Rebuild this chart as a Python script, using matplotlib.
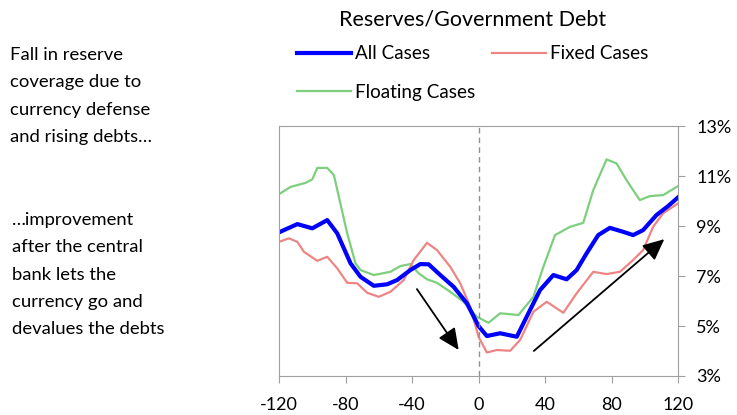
import matplotlib
matplotlib.use("Agg")
import matplotlib.pyplot as plt
from matplotlib.ticker import FuncFormatter

plt.rcParams['font.family'] = ['Lato', 'DejaVu Sans']
plt.rcParams['axes.unicode_minus'] = False

# months around the float (0 = currency let go), reserves / govt debt in %
all_x = [-120, -109, -100, -91, -85, -77, -71, -63, -55, -49, -41, -35, -30, -23, -15, -7, 0, 5,
         13, 23, 30, 37, 45, 53, 59, 65, 72, 79, 87, 93, 99, 107, 114, 120]
all_y = [8.75, 9.08, 8.91, 9.24, 8.71, 7.51, 6.97, 6.61, 6.67, 6.84, 7.24, 7.48, 7.47, 7.04, 6.57,
         5.91, 5.0, 4.6, 4.71, 4.57, 5.51, 6.44, 7.04, 6.87, 7.24, 7.91, 8.64, 8.93, 8.77, 8.64,
         8.84, 9.44, 9.8, 10.15]

fixed_x = [-120, -114, -109, -105, -97, -91, -85, -79, -73, -67, -60, -53, -45, -39, -31, -25, -17,
           -11, -5, 0, 5, 11, 19, 25, 33, 41, 51, 59, 69, 77, 85, 93, 99, 105, 111, 120]
fixed_y = [8.37, 8.51, 8.37, 7.97, 7.61, 7.77, 7.31, 6.73, 6.71, 6.33, 6.17, 6.37, 6.84, 7.64, 8.33,
           8.04, 7.37, 6.71, 5.77, 4.57, 3.94, 4.04, 4.01, 4.44, 5.57, 5.97, 5.53, 6.31, 7.17, 7.08,
           7.17, 7.64, 8.04, 8.97, 9.51, 9.91]

float_x = [-120, -113, -104, -100, -97, -91, -87, -84, -79, -74, -71, -63, -53, -47, -41, -36, -31,
           -25, -17, -9, -1, 6, 13, 24, 33, 39, 46, 55, 63, 69, 77, 83, 89, 97, 103, 111, 120]
float_y = [10.28, 10.57, 10.73, 10.87, 11.33, 11.33, 11.04, 10.17, 8.71, 7.51, 7.24, 7.04, 7.17,
           7.4, 7.48, 7.11, 6.87, 6.73, 6.37, 5.97, 5.37, 5.13, 5.51, 5.44, 6.17, 7.37, 8.64, 8.97,
           9.13, 10.44, 11.67, 11.51, 10.84, 10.04, 10.2, 10.24, 10.6]

x_ticks = [-120, -80, -40, 0, 40, 80, 120]
y_ticks = [3, 5, 7, 9, 11, 13]

# arrows: (start, end) in data units
arrow_down = ((-38, 6.57), (-11, 3.95))
arrow_up = ((32, 3.93), (113, 8.55))

fig = plt.figure(figsize=(7.37, 4.15), dpi=100)
ax = fig.add_axes([0.3786, 0.094, 0.5414, 0.602])

ax.plot(float_x, float_y, color='#7dcf7d', lw=1.6, label='Floating Cases')
ax.plot(fixed_x, fixed_y, color='#ee8585', lw=1.6, label='Fixed Cases')
ax.plot(all_x, all_y, color='#0000ff', lw=3.0, label='All Cases')
ax.axvline(0, color='#909090', lw=1, ls=(0, (4, 3)))

for (x0, y0), (x1, y1) in [arrow_down, arrow_up]:
    ax.annotate('', xy=(x1, y1), xytext=(x0, y0),
                arrowprops=dict(arrowstyle='-|>,head_length=1.3,head_width=0.6', color='black', lw=1.3))

ax.set_xlim(-120, 120)
ax.set_ylim(3, 13)
ax.set_xticks(x_ticks)
ax.set_yticks(y_ticks)
ax.yaxis.tick_right()
ax.yaxis.set_major_formatter(FuncFormatter(lambda v, p: f'{v:.0f}%'))
ax.tick_params(labelsize=13, color='#a0a0a0', length=5)
ax.tick_params(axis='x', pad=10)
ax.tick_params(axis='y', pad=8)
for s in ax.spines.values():
    s.set_color('#a0a0a0')

# legend: row 1 All / Fixed, row 2 Floating (legend fills column by column)
h, l = ax.get_legend_handles_labels()
order = [2, 0, 1]
leg = fig.legend([h[i] for i in order], [l[i] for i in order], ncol=2,
                 loc='upper left', bbox_to_anchor=(0.38, 0.932),
                 frameon=False, fontsize=13.6, handlelength=2.86,
                 columnspacing=0.9, handletextpad=0.2, labelspacing=1.15)
fig.text(0.641, 0.954, 'Reserves/Government Debt', fontsize=15.5, ha='center', va='center')

fig.text(0.013, 0.887, 'Fall in reserve\ncoverage due to\ncurrency defense\nand rising debts…',
         fontsize=13.3, va='top', linespacing=1.88)
fig.text(0.016, 0.49, '…improvement\nafter the central\nbank lets the\ncurrency go and\ndevalues the debts',
         fontsize=13.3, va='top', linespacing=1.88)

fig.savefig('out.png', dpi=100)
